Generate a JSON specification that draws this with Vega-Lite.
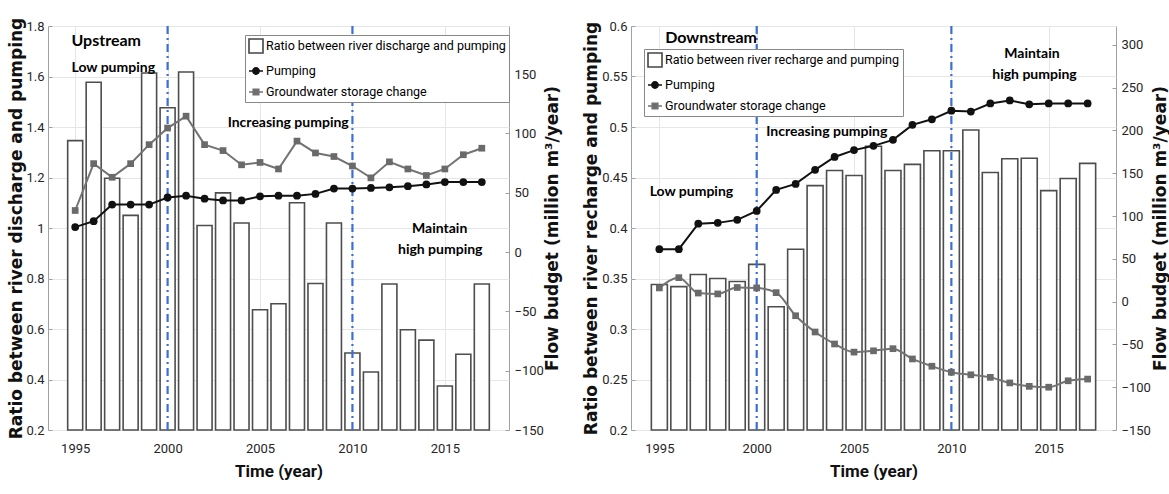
{
  "$schema": "https://vega.github.io/schema/vega-lite/v6.json",
  "padding": {"left": 6, "top": 16, "right": 0, "bottom": 0},
  "background": "white",
  "config": {
    "view": {"stroke": "#a0a0a0", "strokeWidth": 1},
    "axis": {
      "labelFont": "Roboto",
      "labelFontSize": 13,
      "labelColor": "#262626",
      "titleFont": "DejaVu Sans",
      "titleFontWeight": "bold",
      "titleFontSize": 17,
      "titleColor": "#111111",
      "domain": false,
      "gridColor": "#e6e6e6",
      "tickColor": "#a0a0a0",
      "tickSize": -4
    }
  },
  "datasets": {
    "up": [
      {"year": 1995, "ratio": 1.346, "pumping": 21, "gw": 35},
      {"year": 1996, "ratio": 1.577, "pumping": 26, "gw": 74.5},
      {"year": 1997, "ratio": 1.197, "pumping": 40, "gw": 63},
      {"year": 1998, "ratio": 1.05, "pumping": 40, "gw": 74.5},
      {"year": 1999, "ratio": 1.614, "pumping": 40, "gw": 90.5},
      {"year": 2000, "ratio": 1.476, "pumping": 46, "gw": 104.5},
      {"year": 2001, "ratio": 1.618, "pumping": 47.5, "gw": 114.5},
      {"year": 2002, "ratio": 1.01, "pumping": 45, "gw": 90.5},
      {"year": 2003, "ratio": 1.139, "pumping": 43.5, "gw": 85.5},
      {"year": 2004, "ratio": 1.02, "pumping": 43.5, "gw": 73.5},
      {"year": 2005, "ratio": 0.676, "pumping": 47, "gw": 75.5},
      {"year": 2006, "ratio": 0.7, "pumping": 47.5, "gw": 70},
      {"year": 2007, "ratio": 1.1, "pumping": 47.5, "gw": 93.5},
      {"year": 2008, "ratio": 0.78, "pumping": 49, "gw": 83.5},
      {"year": 2009, "ratio": 1.02, "pumping": 53.5, "gw": 80.5},
      {"year": 2010, "ratio": 0.505, "pumping": 53.5, "gw": 72.5},
      {"year": 2011, "ratio": 0.43, "pumping": 54, "gw": 62.5},
      {"year": 2012, "ratio": 0.778, "pumping": 54.5, "gw": 76},
      {"year": 2013, "ratio": 0.597, "pumping": 55.5, "gw": 70},
      {"year": 2014, "ratio": 0.556, "pumping": 57, "gw": 64.5},
      {"year": 2015, "ratio": 0.374, "pumping": 59, "gw": 70},
      {"year": 2016, "ratio": 0.5, "pumping": 59, "gw": 82},
      {"year": 2017, "ratio": 0.778, "pumping": 59, "gw": 87.5}
    ],
    "down": [
      {"year": 1995, "ratio": 0.344, "pumping": 61.3, "gw": 16},
      {"year": 1996, "ratio": 0.342, "pumping": 61.3, "gw": 28},
      {"year": 1997, "ratio": 0.354, "pumping": 91, "gw": 10},
      {"year": 1998, "ratio": 0.35, "pumping": 92, "gw": 9},
      {"year": 1999, "ratio": 0.347, "pumping": 95.5, "gw": 16.5},
      {"year": 2000, "ratio": 0.364, "pumping": 106, "gw": 16},
      {"year": 2001, "ratio": 0.322, "pumping": 130.5, "gw": 10.5},
      {"year": 2002, "ratio": 0.379, "pumping": 137.5, "gw": -16.5},
      {"year": 2003, "ratio": 0.442, "pumping": 154, "gw": -35.5},
      {"year": 2004, "ratio": 0.457, "pumping": 169, "gw": -49.5},
      {"year": 2005, "ratio": 0.452, "pumping": 177, "gw": -59},
      {"year": 2006, "ratio": 0.481, "pumping": 182, "gw": -57.5},
      {"year": 2007, "ratio": 0.457, "pumping": 189, "gw": -55},
      {"year": 2008, "ratio": 0.463, "pumping": 206.5, "gw": -67},
      {"year": 2009, "ratio": 0.4765, "pumping": 213, "gw": -75.5},
      {"year": 2010, "ratio": 0.4765, "pumping": 223, "gw": -82.5},
      {"year": 2011, "ratio": 0.497, "pumping": 222, "gw": -85.5},
      {"year": 2012, "ratio": 0.455, "pumping": 231.5, "gw": -88.5},
      {"year": 2013, "ratio": 0.4686, "pumping": 235, "gw": -95},
      {"year": 2014, "ratio": 0.469, "pumping": 230.5, "gw": -99},
      {"year": 2015, "ratio": 0.437, "pumping": 231.5, "gw": -100},
      {"year": 2016, "ratio": 0.449, "pumping": 231.5, "gw": -92.5},
      {"year": 2017, "ratio": 0.464, "pumping": 231.5, "gw": -90.5}
    ]
  },
  "bounds": "flush",
  "spacing": 122,
  "resolve": {
    "scale": {"x": "independent", "y": "independent", "shape": "independent", "fill": "independent", "stroke": "independent"},
    "legend": {"shape": "independent", "fill": "independent", "stroke": "independent"}
  },
  "hconcat": [
    {
      "width": 461,
      "height": 404,
      "data": {"name": "up"},
      "resolve": {"scale": {"y": "independent"}},
      "layer": [
        {
          "layer": [
            {
              "mark": {"type": "bar", "width": 15, "fill": "white", "stroke": "#4d4d4d", "strokeWidth": 1.6},
              "encoding": {
                "x": {"field": "year", "type": "quantitative",
                  "scale": {"domain": [1993.8, 2018.2], "nice": false, "zero": false},
                  "axis": {"values": [1995, 2000, 2005, 2010, 2015], "format": "d", "grid": true, "labelPadding": 16,
                    "title": "Time (year)", "titleFont": "Roboto", "titleFontSize": 17, "titlePadding": 8}},
                "y": {"field": "ratio", "type": "quantitative",
                  "scale": {"domain": [0.2, 1.8], "nice": false, "zero": false},
                  "axis": {"values": [0.2, 0.4, 0.6, 0.8, 1, 1.2, 1.4, 1.6, 1.8], "format": "~g", "grid": true,
                    "labelPadding": 8, "title": "Ratio between river discharge and pumping", "titleX": -32, "titleBaseline": "middle"}},
                "y2": {"datum": 0.2}
              }
            },
            {
              "data": {"values": [{"year": 2000}, {"year": 2010}]},
              "mark": {"type": "rule", "color": "#3b6fd6", "strokeWidth": 2.2, "strokeDash": [8, 4, 2, 4]},
              "encoding": {"x": {"field": "year", "type": "quantitative"}}
            },
            {
              "data": {"values": [{"x": 1994.8, "y": 1.74, "label": "Upstream"}]},
              "mark": {"type": "text", "align": "left", "baseline": "middle", "font": "Lato", "fontWeight": "bold", "fontSize": 16, "color": "#000000"},
              "encoding": {"x": {"field": "x", "type": "quantitative"}, "y": {"field": "y", "type": "quantitative"}, "text": {"field": "label"}}
            },
            {
              "data": {"values": [{"x": 1994.8, "y": 1.634, "label": "Low pumping"}, {"x": 2003.25, "y": 1.416, "label": "Increasing pumping"}]},
              "mark": {"type": "text", "align": "left", "baseline": "middle", "font": "Lato", "fontWeight": "bold", "fontSize": 14, "color": "#000000"},
              "encoding": {"x": {"field": "x", "type": "quantitative"}, "y": {"field": "y", "type": "quantitative"}, "text": {"field": "label"}}
            },
            {
              "data": {"values": [{"x": 2014.72, "y": 0.996, "label": "Maintain"}, {"x": 2014.75, "y": 0.914, "label": "high pumping"}]},
              "mark": {"type": "text", "align": "center", "baseline": "middle", "font": "Lato", "fontWeight": "bold", "fontSize": 14, "color": "#000000"},
              "encoding": {"x": {"field": "x", "type": "quantitative"}, "y": {"field": "y", "type": "quantitative"}, "text": {"field": "label"}}
            }
          ]
        },
        {
          "layer": [
            {
              "mark": {"type": "line", "strokeWidth": 2, "color": "#737373", "point": {"shape": "square", "size": 45, "filled": true, "color": "#6a6a6a"}},
              "encoding": {
                "x": {"field": "year", "type": "quantitative"},
                "y": {"field": "gw", "type": "quantitative", "scale": {"domain": [-150, 190.5], "nice": false, "zero": false},
                  "axis": {"orient": "right", "values": [-150, -100, -50, 0, 50, 100, 150], "grid": false, "labelPadding": 9,
                    "title": "Flow budget (million m³/year)", "titleAngle": 270, "titleBaseline": "middle", "titleX": 43}}
              }
            },
            {
              "mark": {"type": "line", "strokeWidth": 2, "color": "#111111", "point": {"shape": "circle", "size": 60, "filled": true, "color": "#111111"}},
              "encoding": {
                "x": {"field": "year", "type": "quantitative"},
                "y": {"field": "pumping", "type": "quantitative",
                  "axis": {"orient": "right", "values": [-150, -100, -50, 0, 50, 100, 150], "grid": false, "labelPadding": 9,
                    "title": "Flow budget (million m³/year)", "titleAngle": 270, "titleBaseline": "middle", "titleX": 43}}
              }
            },
            {
              "data": {"values": [{"series": "Ratio between river discharge and pumping"}, {"series": "Pumping"}, {"series": "Groundwater storage change"}]},
              "mark": {"type": "point", "opacity": 0, "filled": true},
              "encoding": {
                "shape": {"field": "series", "type": "nominal",
                  "scale": {"domain": ["Ratio between river discharge and pumping", "Pumping", "Groundwater storage change"],
                    "range": ["M-1,-1H1V1H-1Z", "M-1,0H1M-0.45,0A0.45,0.45 0 1 1 0.45,0A0.45,0.45 0 1 1 -0.45,0Z", "M-1,0H1M-0.4,-0.4H0.4V0.4H-0.4Z"]},
                  "legend": {"orient": "none", "legendX": 197, "legendY": 9, "title": null, "symbolOpacity": 1,
                    "labelFont": "Roboto", "labelFontSize": 12.5, "labelColor": "#000000", "labelLimit": 400,
                    "symbolSize": 196, "symbolStrokeWidth": 1.6, "rowPadding": 6, "padding": 3, "labelOffset": 2,
                    "fillColor": "white", "strokeColor": "#888888"}},
                "fill": {"field": "series", "type": "nominal",
                  "scale": {"domain": ["Ratio between river discharge and pumping", "Pumping", "Groundwater storage change"], "range": ["#ffffff", "#111111", "#6a6a6a"]},
                  "legend": {"orient": "none", "legendX": 197, "legendY": 9, "title": null, "symbolOpacity": 1}},
                "stroke": {"field": "series", "type": "nominal",
                  "scale": {"domain": ["Ratio between river discharge and pumping", "Pumping", "Groundwater storage change"], "range": ["#444444", "#111111", "#737373"]},
                  "legend": {"orient": "none", "legendX": 197, "legendY": 9, "title": null, "symbolOpacity": 1}}
              }
            }
          ]
        }
      ]
    },
    {
      "width": 485,
      "height": 404,
      "data": {"name": "down"},
      "resolve": {"scale": {"y": "independent"}},
      "layer": [
        {
          "layer": [
            {
              "mark": {"type": "bar", "width": 16, "fill": "white", "stroke": "#4d4d4d", "strokeWidth": 1.6},
              "encoding": {
                "x": {"field": "year", "type": "quantitative",
                  "scale": {"domain": [1993.8, 2018.2], "nice": false, "zero": false},
                  "axis": {"values": [1995, 2000, 2005, 2010, 2015], "format": "d", "grid": true, "labelPadding": 16,
                    "title": "Time (year)", "titleFont": "Roboto", "titleFontSize": 17, "titlePadding": 8}},
                "y": {"field": "ratio", "type": "quantitative",
                  "scale": {"domain": [0.2, 0.6], "nice": false, "zero": false},
                  "axis": {"values": [0.2, 0.25, 0.3, 0.35, 0.4, 0.45, 0.5, 0.55, 0.6], "format": "~g", "grid": true,
                    "labelPadding": 8, "title": "Ratio between river recharge and pumping", "titleX": -40, "titleBaseline": "middle"}},
                "y2": {"datum": 0.2}
              }
            },
            {
              "data": {"values": [{"year": 2000}, {"year": 2010}]},
              "mark": {"type": "rule", "color": "#3b6fd6", "strokeWidth": 2.2, "strokeDash": [8, 4, 2, 4]},
              "encoding": {"x": {"field": "year", "type": "quantitative"}}
            },
            {
              "data": {"values": [{"x": 1995.3, "y": 0.588, "label": "Downstream"}]},
              "mark": {"type": "text", "align": "left", "baseline": "middle", "font": "Lato", "fontWeight": "bold", "fontSize": 16, "color": "#000000"},
              "encoding": {"x": {"field": "x", "type": "quantitative"}, "y": {"field": "y", "type": "quantitative"}, "text": {"field": "label"}}
            },
            {
              "data": {"values": [{"x": 1994.5, "y": 0.4356, "label": "Low pumping"}, {"x": 2000.49, "y": 0.495, "label": "Increasing pumping"}]},
              "mark": {"type": "text", "align": "left", "baseline": "middle", "font": "Lato", "fontWeight": "bold", "fontSize": 14, "color": "#000000"},
              "encoding": {"x": {"field": "x", "type": "quantitative"}, "y": {"field": "y", "type": "quantitative"}, "text": {"field": "label"}}
            },
            {
              "data": {"values": [{"x": 2014.14, "y": 0.5725, "label": "Maintain"}, {"x": 2014.27, "y": 0.5517, "label": "high pumping"}]},
              "mark": {"type": "text", "align": "center", "baseline": "middle", "font": "Lato", "fontWeight": "bold", "fontSize": 14, "color": "#000000"},
              "encoding": {"x": {"field": "x", "type": "quantitative"}, "y": {"field": "y", "type": "quantitative"}, "text": {"field": "label"}}
            }
          ]
        },
        {
          "layer": [
            {
              "mark": {"type": "line", "strokeWidth": 2, "color": "#737373", "interpolate": "monotone", "point": {"shape": "square", "size": 45, "filled": true, "color": "#6a6a6a"}},
              "encoding": {
                "x": {"field": "year", "type": "quantitative"},
                "y": {"field": "gw", "type": "quantitative", "scale": {"domain": [-150, 322], "nice": false, "zero": false},
                  "axis": {"orient": "right", "values": [-150, -100, -50, 0, 50, 100, 150, 200, 250, 300], "grid": false, "labelPadding": 9,
                    "title": "Flow budget (million m³/year)", "titleAngle": 270, "titleBaseline": "middle", "titleX": 44}}
              }
            },
            {
              "mark": {"type": "line", "strokeWidth": 2, "color": "#111111", "point": {"shape": "circle", "size": 60, "filled": true, "color": "#111111"}},
              "encoding": {
                "x": {"field": "year", "type": "quantitative"},
                "y": {"field": "pumping", "type": "quantitative",
                  "axis": {"orient": "right", "values": [-150, -100, -50, 0, 50, 100, 150, 200, 250, 300], "grid": false, "labelPadding": 9,
                    "title": "Flow budget (million m³/year)", "titleAngle": 270, "titleBaseline": "middle", "titleX": 44}}
              }
            },
            {
              "data": {"values": [{"series": "Ratio between river recharge and pumping"}, {"series": "Pumping"}, {"series": "Groundwater storage change"}]},
              "mark": {"type": "point", "opacity": 0, "filled": true},
              "encoding": {
                "shape": {"field": "series", "type": "nominal",
                  "scale": {"domain": ["Ratio between river recharge and pumping", "Pumping", "Groundwater storage change"],
                    "range": ["M-1,-1H1V1H-1Z", "M-1,0H1M-0.45,0A0.45,0.45 0 1 1 0.45,0A0.45,0.45 0 1 1 -0.45,0Z", "M-1,0H1M-0.4,-0.4H0.4V0.4H-0.4Z"]},
                  "legend": {"orient": "none", "legendX": 13, "legendY": 23, "title": null, "symbolOpacity": 1,
                    "labelFont": "Roboto", "labelFontSize": 12.5, "labelColor": "#000000", "labelLimit": 400,
                    "symbolSize": 196, "symbolStrokeWidth": 1.6, "rowPadding": 6, "padding": 3, "labelOffset": 2,
                    "fillColor": "white", "strokeColor": "#888888"}},
                "fill": {"field": "series", "type": "nominal",
                  "scale": {"domain": ["Ratio between river recharge and pumping", "Pumping", "Groundwater storage change"], "range": ["#ffffff", "#111111", "#6a6a6a"]},
                  "legend": {"orient": "none", "legendX": 13, "legendY": 23, "title": null, "symbolOpacity": 1}},
                "stroke": {"field": "series", "type": "nominal",
                  "scale": {"domain": ["Ratio between river recharge and pumping", "Pumping", "Groundwater storage change"], "range": ["#444444", "#111111", "#737373"]},
                  "legend": {"orient": "none", "legendX": 13, "legendY": 23, "title": null, "symbolOpacity": 1}}
              }
            }
          ]
        }
      ]
    }
  ]
}
